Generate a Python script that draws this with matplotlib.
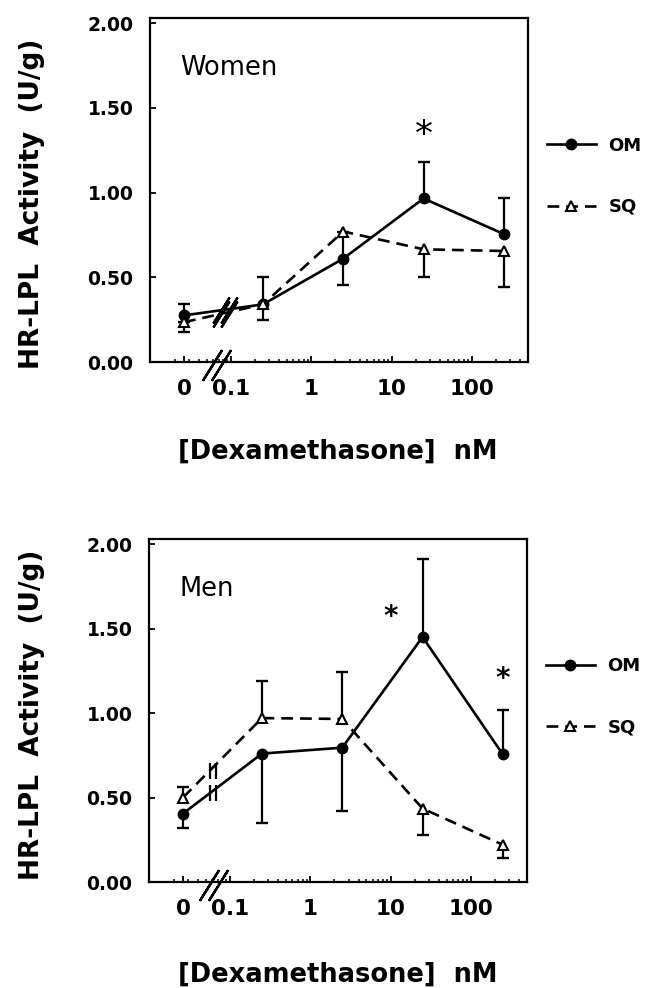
import numpy as np
import matplotlib
matplotlib.use("Agg")
import matplotlib.pyplot as plt

# ---------------- data ----------------
doses = [0, 0.25, 2.5, 25, 250]           # nM (0 = control, drawn left of the axis break)
xtick_vals = [0, 0.1, 1, 10, 100]
xtick_labels = ["0", "0.1", "1", "10", "100"]
ytick_vals = [0.0, 0.5, 1.0, 1.5, 2.0]
ytick_labels = ["0.00", "0.50", "1.00", "1.50", "2.00"]

women_om = [0.275, 0.34, 0.61, 0.965, 0.755]
women_om_lo = [0.04, 0.0, 0.155, 0.0, 0.0]
women_om_hi = [0.065, 0.16, 0.155, 0.215, 0.215]
women_sq = [0.235, 0.34, 0.77, 0.665, 0.655]
women_sq_lo = [0.06, 0.095, 0.0, 0.165, 0.215]
women_sq_hi = [0.0, 0.0, 0.0, 0.0, 0.0]
women_sig_x = [25]
women_sig_y = [1.34]

men_om = [0.405, 0.76, 0.795, 1.45, 0.755]
men_om_lo = [0.085, 0.41, 0.375, 0.0, 0.0]
men_om_hi = [0.0, 0.0, 0.0, 0.46, 0.265]
men_sq = [0.50, 0.97, 0.965, 0.435, 0.22]
men_sq_lo = [0.0, 0.0, 0.0, 0.155, 0.08]
men_sq_hi = [0.06, 0.22, 0.28, 0.0, 0.0]
men_sig_x = [10, 250]
men_sig_y = [1.57, 1.20]

# ---------------- style ----------------
plt.rcParams['font.family'] = ['DejaVu Sans']
plt.rcParams['lines.scale_dashes'] = False
ZERO_POS = 0.026      # where the "0" dose is drawn on the log axis

fig = plt.figure(figsize=(6.58, 9.88), dpi=100)
W, H = 658.0, 988.0
ax1 = fig.add_axes([150 / W, 1 - 362 / H, 378 / W, 344 / H])
ax2 = fig.add_axes([149 / W, 1 - 882 / H, 378 / W, 343 / H])


def xpos(v):
    return [ZERO_POS if d == 0 else d for d in v]


def draw_err(ax, x, y, lo, hi):
    x = np.array(xpos(x)); y = np.array(y); lo = np.array(lo); hi = np.array(hi)
    for err, sign in ((hi, 1), (lo, -1)):
        m = err > 0
        ends = y[m] + sign * err[m]
        ax.vlines(x[m], y[m], ends, colors='black', lw=1.6, zorder=2)
        ax.plot(x[m], ends, ls='none', marker='_', ms=8, mew=1.7, color='black', zorder=2)


def line_y_at(xb, x0, y0, x1, y1):
    t = (np.log10(xb) - np.log10(x0)) / (np.log10(x1) - np.log10(x0))
    return y0 + t * (y1 - y0)


def panel(ax, om, om_lo, om_hi, sq, sq_lo, sq_hi, title, sig_x, sig_y, sig_size,
          sig_weight, axis_break, line_break, line_break_marker, line_break_ms, gap):
    xs = xpos(doses)
    draw_err(ax, doses, om, om_lo, om_hi)
    draw_err(ax, doses, sq, sq_lo, sq_hi)
    ax.plot(xs, om, '-', color='black', lw=1.9, marker='o', ms=7.5,
            mfc='black', mec='black', label='OM', zorder=3)
    ax.plot(xs, sq, color='black', lw=1.9, dashes=(8.5, 5), marker='^', ms=7.5,
            mfc='white', mec='black', mew=1.5, label='SQ', zorder=3)
    ax.set_xscale('log')
    ax.set_xlim(0.0098, 500)
    ax.set_ylim(0, 2.03)
    ax.set_xticks(xpos(xtick_vals))
    ax.set_xticklabels(xtick_labels, fontsize=15.5, fontweight='bold')
    ax.set_yticks(ytick_vals)
    ax.set_yticklabels(ytick_labels, fontsize=13.5, fontweight='bold')
    ax.tick_params(axis='x', which='major', direction='in', length=4, width=1.3, pad=12)
    ax.tick_params(axis='x', which='minor', direction='in', length=2.5, width=1.1)
    ax.tick_params(axis='y', which='major', direction='in', length=4, width=1.3, pad=12)
    ax.tick_params(axis='y', which='minor', left=False)
    for s in ax.spines.values():
        s.set_linewidth(1.6)
    ax.text(0.08, 0.855, title, transform=ax.transAxes, fontsize=18.5,
            ha='left', va='center')
    for sx, sy in zip(sig_x, sig_y):
        ax.text(sx, sy, '*', fontsize=sig_size, fontweight=sig_weight,
                ha='center', va='center')
    # axis break marks
    ax.plot([axis_break, axis_break * 1.28], [-0.02, -0.02], ls='none',
            marker=(2, 2, -32), ms=26, mew=1.7, color='black', clip_on=False, zorder=5)
    # break marks on the data lines
    for ser in (om, sq):
        yb = line_y_at(line_break, ZERO_POS, ser[0], doses[1], ser[1])
        ax.plot([line_break, line_break * gap], [yb, yb], ls='none',
                marker=line_break_marker, ms=line_break_ms, mew=1.6,
                color='black', zorder=5)
    ax.legend(loc='center left', bbox_to_anchor=(1.05, 0.54), frameon=False,
              handlelength=2.7, handletextpad=0.7, labelspacing=2.4,
              borderpad=0, borderaxespad=0, numpoints=1,
              prop={'weight': 'bold', 'size': 13})


panel(ax1, women_om, women_om_lo, women_om_hi, women_sq, women_sq_lo, women_sq_hi,
      'Women', women_sig_x, women_sig_y, 26, 'normal', 0.058, 0.075, (2, 2, -32), 22, 1.25)
panel(ax2, men_om, men_om_lo, men_om_hi, men_sq, men_sq_lo, men_sq_hi,
      'Men', men_sig_x, men_sig_y, 20, 'bold', 0.055, 0.056, '|', 11, 1.2)

ylab = 'HR-LPL  Activity  (U/g)'
xlab = '[Dexamethasone]  nM'
fig.text(32 / W, 1 - 204 / H, ylab, rotation=90, ha='center', va='center',
         fontsize=19, fontweight='bold')
fig.text(32 / W, 1 - 715 / H, ylab, rotation=90, ha='center', va='center',
         fontsize=19, fontweight='bold')
fig.text(338 / W, 1 - 452 / H, xlab, ha='center', va='center',
         fontsize=18.5, fontweight='bold')
fig.text(338 / W, 1 - 975 / H, xlab, ha='center', va='center',
         fontsize=18.5, fontweight='bold')

fig.savefig('out.png', dpi=100)
